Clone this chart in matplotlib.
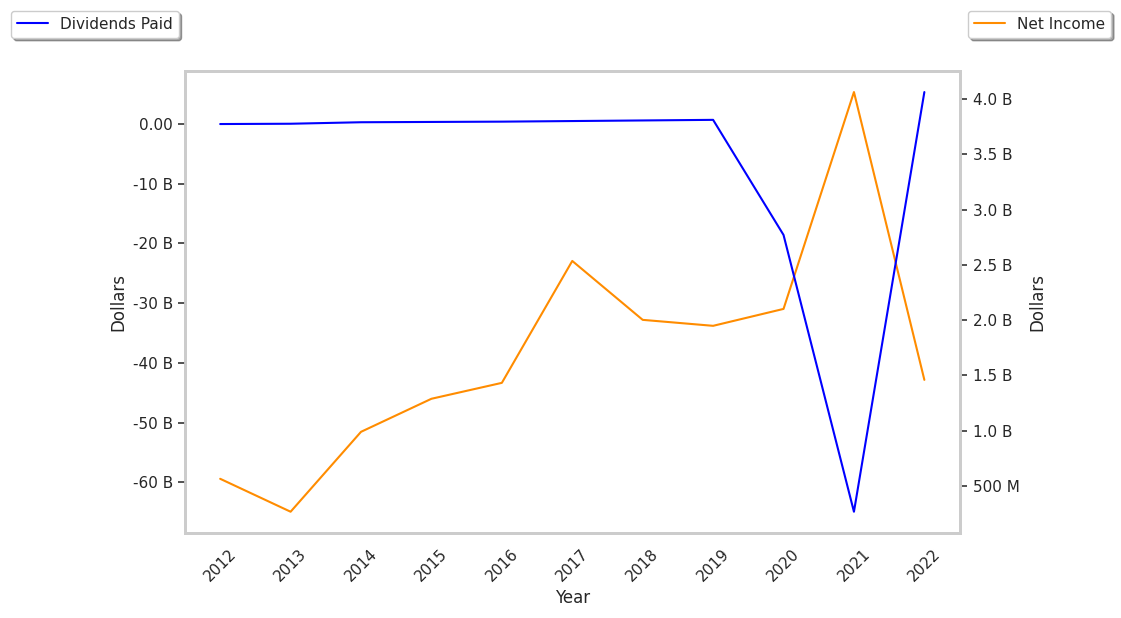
import matplotlib
matplotlib.use("Agg")
import matplotlib.pyplot as plt
import matplotlib.ticker as mticker
import seaborn as sns

years = [2012, 2013, 2014, 2015, 2016, 2017, 2018, 2019, 2020, 2021, 2022]
dividends_paid = [-0.05, 0.0, 0.25, 0.3, 0.35, 0.45, 0.55, 0.65, -18.6, -64.9, 5.3]  # billions
net_income = [0.564, 0.266, 0.989, 1.288, 1.432, 2.535, 2.002, 1.948, 2.101, 4.063, 1.459]  # billions

sns.set_theme(style="white")

fig = plt.figure(figsize=(11.21, 6.18), dpi=100)
ax = fig.add_axes([0.165, 0.138, 0.691, 0.747])
ax2 = ax.twinx()

ax.plot(years, dividends_paid, color="blue", linewidth=1.5, label="Dividends Paid")
ax2.plot(years, net_income, color="darkorange", linewidth=1.5, label="Net Income")

ax.set_zorder(ax2.get_zorder() + 1)
ax.patch.set_visible(False)

def left_fmt(v, pos):
    if abs(v) < 1e-9:
        return "0.00"
    return f"{v:.0f} B"

def right_fmt(v, pos):
    if v < 1:
        return f"{v * 1000:.0f} M"
    return f"{v:.1f} B"

ax.yaxis.set_major_locator(mticker.MultipleLocator(10))
ax.yaxis.set_major_formatter(mticker.FuncFormatter(left_fmt))
ax2.yaxis.set_major_locator(mticker.MultipleLocator(0.5))
ax2.yaxis.set_major_formatter(mticker.FuncFormatter(right_fmt))

ax.set_xticks(years)
ax.set_xticklabels([str(y) for y in years], rotation=45)
ax.set_xlim(2011.5, 2022.5)

ax.set_xlabel("Year")
ax.set_ylabel("Dollars")
ax2.set_ylabel("Dollars", labelpad=6)

for a in (ax, ax2):
    for s in a.spines.values():
        s.set_color("#cccccc")
        s.set_linewidth(2)
ax.tick_params(axis="y", which="major", left=True, length=5, width=1.2, color="#333333")
ax2.tick_params(axis="y", which="major", right=True, length=5, width=1.2, color="#333333", pad=5)

fig.legend(handles=ax.get_lines(), loc="upper left", bbox_to_anchor=(0.003, 0.995), shadow=True, frameon=True)
fig.legend(handles=ax2.get_lines(), loc="upper right", bbox_to_anchor=(0.998, 0.995), shadow=True, frameon=True)

fig.savefig("out.png", dpi=100)
